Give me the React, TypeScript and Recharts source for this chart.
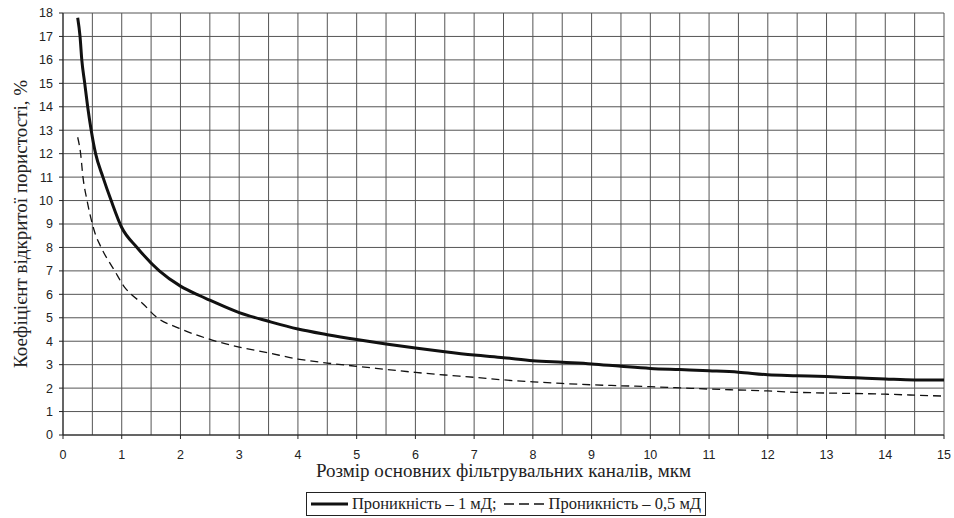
import { LineChart, Line, XAxis, YAxis, CartesianGrid, Legend } from 'recharts';

// 1 мД
const xSolid = [0.25, 0.29, 0.32, 0.37, 0.42, 0.48, 0.555, 0.68, 0.82, 1.0, 1.26, 1.64, 2.0, 2.32, 2.5, 3.0, 3.5, 4.0, 4.5, 5.0, 5.5, 6.0, 6.5, 7.0, 7.5, 8.0, 8.5, 9.0, 9.5, 10.0, 10.5, 11.0, 11.5, 12.0, 12.5, 13.0, 13.5, 14.0, 14.5, 15.0];
const ySolid = [17.8, 17, 16, 15, 14, 13, 12, 11, 10, 8.85, 8, 7, 6.35, 5.95, 5.75, 5.22, 4.85, 4.52, 4.28, 4.07, 3.88, 3.71, 3.55, 3.41, 3.3, 3.17, 3.1, 3.03, 2.93, 2.84, 2.79, 2.74, 2.68, 2.57, 2.53, 2.49, 2.44, 2.39, 2.35, 2.35];

// 0,5 мД
const xDashed = [0.25, 0.3, 0.34, 0.41, 0.5, 0.54, 0.65, 0.88, 1.05, 1.16, 1.36, 1.58, 1.98, 2.54, 3.0, 3.5, 4.0, 4.5, 5.0, 5.5, 6.0, 6.5, 7.0, 7.5, 8.0, 8.5, 9.0, 9.5, 10.0, 10.5, 11.0, 11.5, 12.0, 12.5, 13.0, 13.5, 14.0, 14.5, 15.0];
const yDashed = [12.7, 12, 11, 10, 9, 8.65, 8, 7, 6.3, 6, 5.6, 5.05, 4.55, 4.05, 3.75, 3.5, 3.24, 3.07, 2.93, 2.8, 2.67, 2.56, 2.46, 2.35, 2.27, 2.2, 2.14, 2.1, 2.06, 2.01, 1.96, 1.92, 1.88, 1.82, 1.79, 1.77, 1.74, 1.7, 1.66];

// gridlines every 0.5, labels and tick marks only on whole numbers
const xTicks = [0, 0.5, 1, 1.5, 2, 2.5, 3, 3.5, 4, 4.5, 5, 5.5, 6, 6.5, 7, 7.5, 8, 8.5, 9, 9.5, 10, 10.5, 11, 11.5, 12, 12.5, 13, 13.5, 14, 14.5, 15];
const yTicks = [0, 1, 2, 3, 4, 5, 6, 7, 8, 9, 10, 11, 12, 13, 14, 15, 16, 17, 18];

const xTitle = 'Розмір основних фільтрувальних каналів, мкм';
const yTitle = 'Коефіцієнт відкритої пористості, %';
const solidName = 'Проникність – 1 мД;';
const dashedName = 'Проникність – 0,5 мД';

const solidData = xSolid.map((x, i) => ({ x, y: ySolid[i] }));
const dashedData = xDashed.map((x, i) => ({ x, y: yDashed[i] }));

const serif = "'Liberation Serif', 'Times New Roman', serif";
const sans = "'Liberation Sans', Arial, sans-serif";
const tickStyle = { fontFamily: sans, fontSize: 12.5, fill: '#222' };
const titleStyle = { fontFamily: serif, fontSize: 19, fill: '#222', textAnchor: 'middle' as const };

const X_TICK_SIZE = 4;
const X_TICK_MARGIN = 11;

function XTick(props: any) {
  const { x, y, payload } = props;
  if (!Number.isInteger(payload.value)) return <g />;
  const axisY = y - X_TICK_SIZE - X_TICK_MARGIN;
  return (
    <g>
      <line x1={x} y1={axisY} x2={x} y2={axisY + X_TICK_SIZE} stroke="#222" />
      <text x={x} y={y} dy="0.71em" textAnchor="middle" {...tickStyle}>
        {payload.value}
      </text>
    </g>
  );
}

function LegendBox() {
  return (
    <div style={{ display: 'flex', justifyContent: 'center' }}>
      <div
        style={{
          boxSizing: 'border-box',
          height: 24,
          border: '1px solid #222',
          display: 'flex',
          alignItems: 'center',
          padding: '0 4px',
          fontFamily: serif,
          fontSize: 16.5,
          color: '#222',
          whiteSpace: 'nowrap',
        }}
      >
        <svg width={37} height={8}>
          <line x1={0} y1={4} x2={37} y2={4} stroke="#111" strokeWidth={3} />
        </svg>
        <span style={{ marginLeft: 4 }}>{solidName}</span>
        <svg width={40} height={8} style={{ marginLeft: 7 }}>
          <line x1={0} y1={4} x2={40} y2={4} stroke="#111" strokeWidth={1.5} strokeDasharray="10 5" />
        </svg>
        <span style={{ marginLeft: 5 }}>{dashedName}</span>
      </div>
    </div>
  );
}

export default function App() {
  return (
    <div style={{ position: 'absolute', left: 0, top: 0, background: '#fff' }}>
      <LineChart width={954} height={518} margin={{ top: 13, right: 10, left: 0, bottom: 2 }}>
        <CartesianGrid stroke="#555" strokeWidth={1} />
        <XAxis
          type="number"
          dataKey="x"
          domain={[0, 15]}
          ticks={xTicks}
          interval={0}
          height={57}
          tickSize={X_TICK_SIZE}
          tickMargin={X_TICK_MARGIN}
          tick={<XTick />}
          tickLine={false}
          axisLine={{ stroke: '#222' }}
          label={{
            value: xTitle,
            position: 'insideBottom',
            offset: 15,
            fontFamily: serif,
            fontSize: 19,
            fill: '#222',
            style: titleStyle,
          }}
        />
        <YAxis
          type="number"
          domain={[0, 18]}
          ticks={yTicks}
          interval={0}
          width={63}
          tickSize={4}
          tickMargin={6}
          tick={tickStyle}
          tickLine={{ stroke: '#222' }}
          axisLine={{ stroke: '#222' }}
          label={{
            value: yTitle,
            angle: -90,
            position: 'insideLeft',
            offset: 20,
            fontFamily: serif,
            fontSize: 19,
            fill: '#222',
            style: titleStyle,
          }}
        />
        <Legend verticalAlign="bottom" content={<LegendBox />} wrapperStyle={{ left: 56, width: 900 }} />
        <Line
          data={solidData}
          dataKey="y"
          type="monotone"
          stroke="#111"
          strokeWidth={3}
          dot={false}
          activeDot={false}
          isAnimationActive={false}
          name={solidName}
        />
        <Line
          data={dashedData}
          dataKey="y"
          type="monotone"
          stroke="#111"
          strokeWidth={1.3}
          strokeDasharray="8 5"
          dot={false}
          activeDot={false}
          isAnimationActive={false}
          name={dashedName}
        />
      </LineChart>
    </div>
  );
}
